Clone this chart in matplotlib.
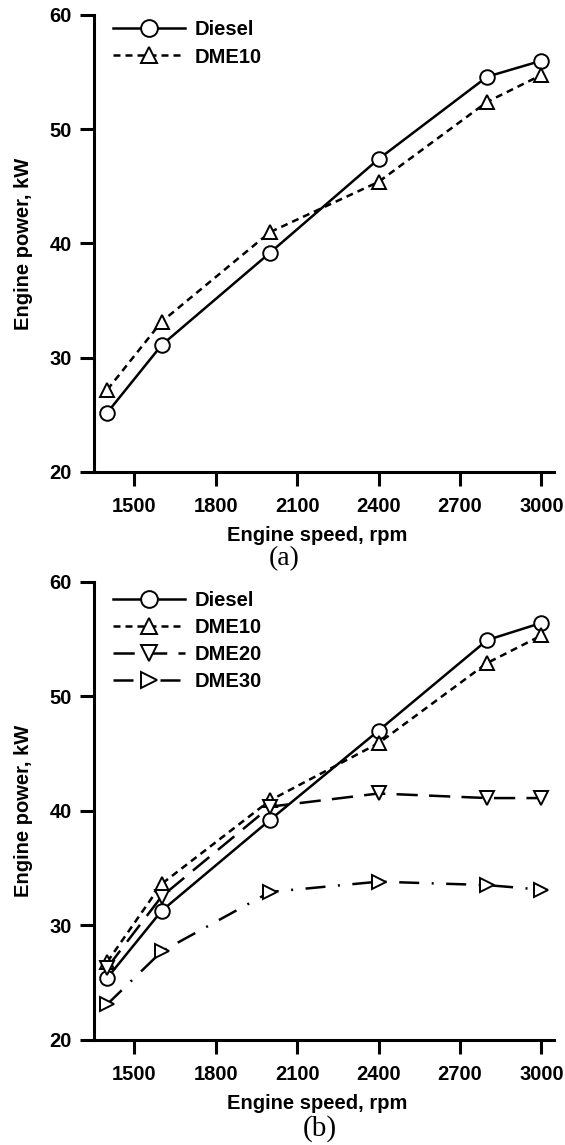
import matplotlib
matplotlib.use("Agg")
import matplotlib.pyplot as plt

plt.rcParams['font.family'] = ['Liberation Sans', 'DejaVu Sans']
plt.rcParams['font.weight'] = 'bold'

speed = [1400, 1600, 2000, 2400, 2800, 3000]

# panel (a)
a_diesel = [25.2, 31.1, 39.2, 47.4, 54.6, 56.0]
a_dme10 = [27.2, 33.15, 41.0, 45.4, 52.4, 54.75]

# panel (b)
b_diesel = [25.4, 31.25, 39.2, 47.0, 54.9, 56.4]
b_dme10 = [26.8, 33.6, 40.9, 45.9, 52.9, 55.3]
b_dme20 = [26.3, 32.5, 40.35, 41.5, 41.1, 41.1]
b_dme30 = [23.1, 27.7, 32.9, 33.8, 33.5, 33.1]

xticks = [1500, 1800, 2100, 2400, 2700, 3000]
yticks = [20, 30, 40, 50, 60]

fig = plt.figure(figsize=(5.65, 11.45), dpi=100)
ax1 = fig.add_axes([0.1669, 0.5878, 0.8136, 0.3991])
ax2 = fig.add_axes([0.1669, 0.0920, 0.8136, 0.4000])

fs = 14.5
lw = 1.8
common = dict(color='black', lw=lw, ms=10.5, mew=1.4, mfc='white', mec='black')
short_dash = (0, (2.8, 2.0))
long_dash = (0, (8.5, 4.5))
dash_dot = (0, (8, 5, 0.8, 5))

ax1.plot(speed, a_diesel, marker='o', ls='-', label='Diesel', **common)
ax1.plot(speed, a_dme10, marker='^', ls=short_dash, label='DME10', **common)

ax2.plot(speed, b_diesel, marker='o', ls='-', label='Diesel', **common)
ax2.plot(speed, b_dme10, marker='^', ls=short_dash, label='DME10', **common)
ax2.plot(speed, b_dme20, marker='v', ls=long_dash, label='DME20', **common)
ax2.plot(speed, b_dme30, marker='>', ls=dash_dot, label='DME30', **common)

for ax, top in ((ax1, 0.988), (ax2, 0.98)):
    ax.set_xlim(1352, 3046)
    ax.set_ylim(20, 60)
    ax.set_xticks(xticks)
    ax.set_yticks(yticks)
    ax.spines['top'].set_visible(False)
    ax.spines['right'].set_visible(False)
    ax.spines['left'].set_linewidth(2.2)
    ax.spines['bottom'].set_linewidth(2.2)
    ax.tick_params(direction='out', length=10, width=2.2, labelsize=fs)
    ax.tick_params(axis='x', pad=8)
    ax.tick_params(axis='y', pad=6)
    for t in ax.get_xticklabels() + ax.get_yticklabels():
        t.set_fontweight('bold')
    ax.set_xlabel('Engine speed, rpm', fontsize=fs, fontweight='bold', labelpad=6)
    ax.xaxis.set_label_coords(0.485, -0.118)
    ax.set_ylabel('Engine power, kW', fontsize=fs, fontweight='bold', labelpad=12)
    ax.legend(loc='upper left', frameon=False, fontsize=fs, handlelength=3.6,
              borderaxespad=0, labelspacing=0.4, handletextpad=0.45,
              borderpad=0.0, markerscale=1.15, bbox_to_anchor=(0.04, top))

ax1.text(0.413, -0.19, '(a)', transform=ax1.transAxes, ha='center', va='center',
         fontsize=20, family='Liberation Serif', fontweight='normal')
ax2.text(0.49, -0.195, '(b)', transform=ax2.transAxes, ha='center', va='center',
         fontsize=21, family='Liberation Serif', fontweight='normal')

fig.savefig('out.png', dpi=100)
